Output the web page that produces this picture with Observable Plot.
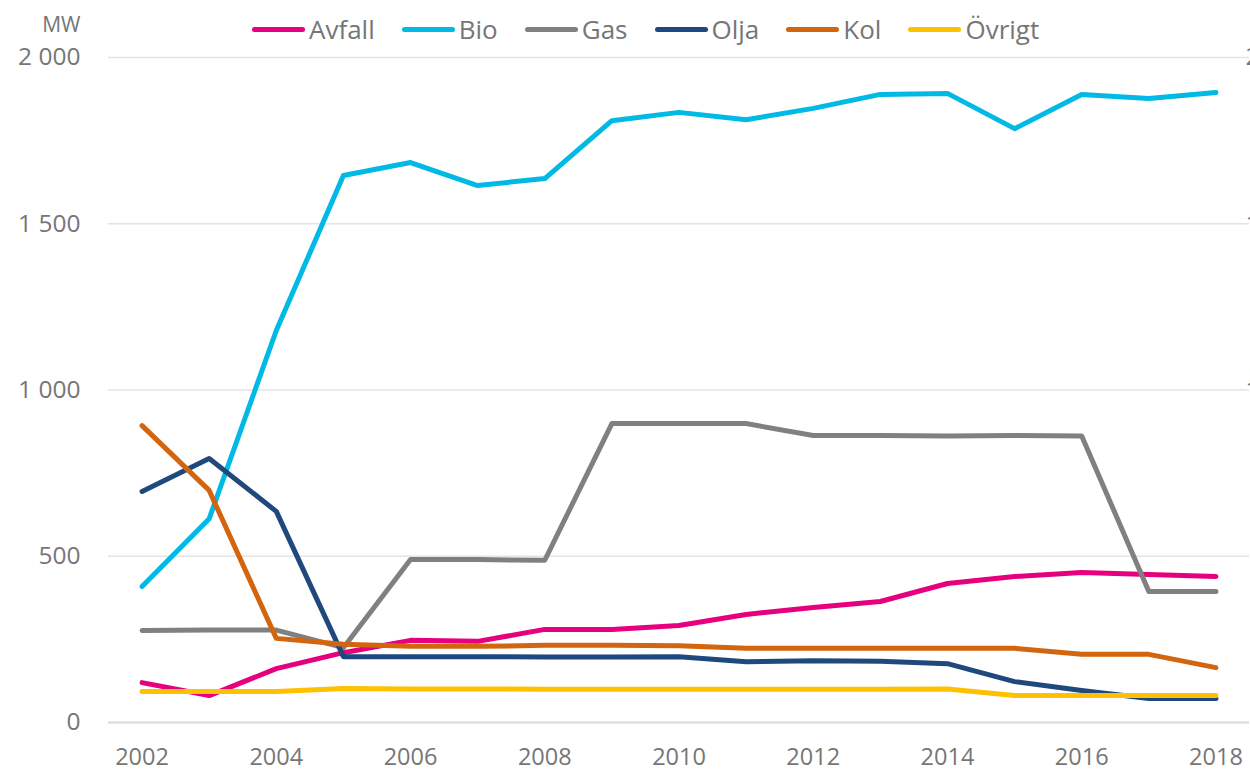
<!DOCTYPE html>
<html>
<head>
<meta charset="utf-8">
<script src="https://cdn.jsdelivr.net/npm/d3@7"></script>
<script src="https://cdn.jsdelivr.net/npm/@observablehq/plot@0.6"></script>
<style>
  html, body { margin: 0; padding: 0; background: #fff; overflow: hidden; width: 1250px; height: 775px; }
  #wrap { position: relative; width: 1250px; height: 775px; }
  #legend { position: absolute; left: 252px; top: 11px; display: flex; align-items: center;
    font-family: "Open Sans", sans-serif; font-size: 26px; color: #767676; white-space: nowrap; line-height: 36px; }
  .item { display: flex; align-items: center; margin-right: 27px; }
  .sw { width: 53px; height: 5px; border-radius: 3px; margin-right: 4px; }
</style>
</head>
<body>
<div id="wrap">
  <div id="chart"></div>
  <div id="legend"></div>
</div>
<script>
const years = [2002,2003,2004,2005,2006,2007,2008,2009,2010,2011,2012,2013,2014,2015,2016,2017,2018];
const seriesNames = ["Avfall","Bio","Gas","Olja","Kol","Övrigt"];
const seriesColors = ["#E6007E","#00B9E4","#808080","#1F497D","#D2650E","#FFC000"];
const avfall = [120,81,162,210,247,244,280,280,292,325,346,364,418,439,451,445,439];
const bio    = [409,613,1179,1645,1684,1615,1636,1810,1835,1813,1847,1889,1892,1786,1889,1877,1895];
const gas    = [277,278,278,225,490,490,488,899,899,899,863,863,862,863,862,394,394];
const olja   = [695,794,635,198,198,198,197,197,198,183,186,184,177,123,96,72,72];
const kol    = [893,698,253,235,229,229,232,232,231,223,223,223,223,223,205,205,165];
const ovrigt = [93,93,93,102,101,101,100,100,100,100,100,100,101,81,81,81,81];
const yTicks = [0,500,1000,1500,2000];
const yTicksRight = [1000,1500,2000];
const xTicks = [2002,2004,2006,2008,2010,2012,2014,2016,2018];
const yUnit = "MW";

const valuesBySeries = [avfall, bio, gas, olja, kol, ovrigt];
const data = [];
seriesNames.forEach((s, i) => years.forEach((y, j) => data.push({series: s, year: y, value: valuesBySeries[i][j]})));

const fmt = d => d3.format(",")(d).replace(/,/g, "\u00a0");
const font = "Open Sans, sans-serif";
const textColor = "#767676";

const chart = Plot.plot({
  width: 1250,
  height: 775,
  marginLeft: 108,
  marginRight: 1,
  marginTop: 57,
  marginBottom: 53,
  style: {fontFamily: font, overflow: "visible", background: "#fff", maxWidth: "none"},
  x: {domain: [2001.5, 2018.5]},
  y: {domain: [0, 2000]},
  color: {domain: seriesNames, range: seriesColors},
  marks: [
    Plot.ruleY(yTicks.filter(d => d > 0), {stroke: "#e4e4e4", strokeWidth: 1.5}),
    Plot.ruleY([0], {stroke: "#d9d9d9", strokeWidth: 2}),
    Plot.axisY({ticks: yTicks, tickSize: 0, tickPadding: 28, tickFormat: fmt, fontSize: 24.5, fill: textColor, label: null}),
    Plot.text(yTicksRight, {y: d => d, text: d => fmt(d), frameAnchor: "right", dx: -4, textAnchor: "start", fontSize: 24.5, fill: textColor}),
    Plot.axisX({ticks: xTicks, tickSize: 0, tickPadding: 26, tickFormat: d => String(d), fontSize: 23.5, fill: textColor, label: null}),
    Plot.text([yUnit], {frameAnchor: "top-left", dx: -28, dy: -40, textAnchor: "end", text: d => d, fontSize: 21, fill: textColor}),
    Plot.line(data, {x: "year", y: "value", z: "series", stroke: "series", strokeWidth: 5, strokeLinejoin: "round", strokeLinecap: "round"})
  ]
});
document.getElementById("chart").appendChild(chart);

const legend = document.getElementById("legend");
seriesNames.forEach((s, i) => {
  const item = document.createElement("div");
  item.className = "item";
  const sw = document.createElement("div");
  sw.className = "sw";
  sw.style.background = seriesColors[i];
  const t = document.createElement("span");
  t.textContent = s;
  item.appendChild(sw);
  item.appendChild(t);
  legend.appendChild(item);
});
</script>
</body>
</html>
